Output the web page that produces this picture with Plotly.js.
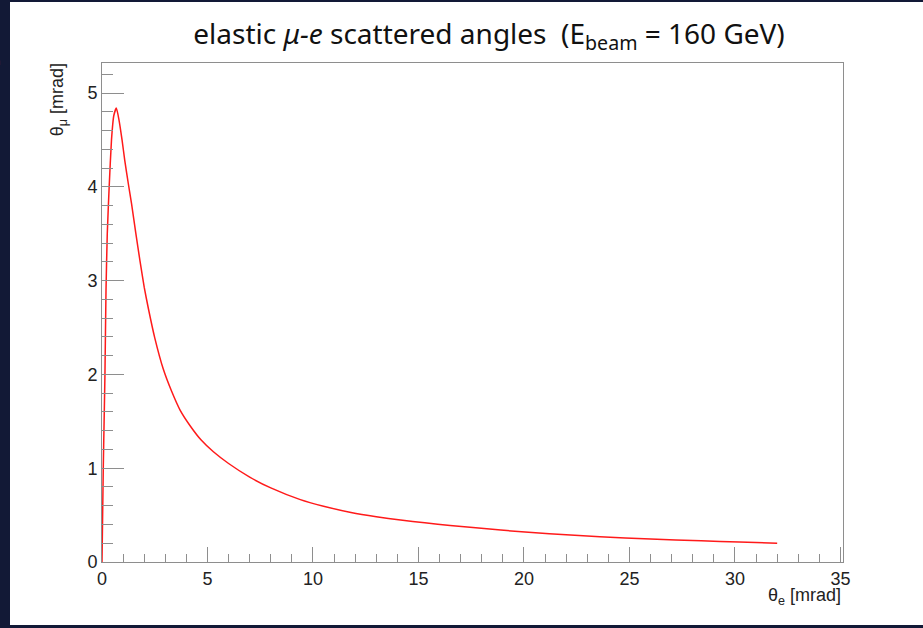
<!DOCTYPE html>
<html>
<head>
<meta charset="utf-8">
<script src="https://cdn.plot.ly/plotly-3.0.1.min.js"></script>
<style>
  html, body { margin: 0; padding: 0; width: 923px; height: 628px; overflow: hidden; background: #121936; }
  #chart { position: absolute; left: 10px; top: 2px; width: 913px; height: 623px; }
  #frag { position: absolute; left: -21px; top: 40px; color: #ffffff; font-family: "Noto Sans", sans-serif; font-size: 40px; line-height: 1; }
</style>
</head>
<body>
<div id="frag">e</div>
<div id="chart"></div>
<script>
// theta_e [mrad]
const thetaE = [0, 0.03, 0.06, 0.10, 0.14, 0.19, 0.25, 0.34, 0.45, 0.56, 0.68, 0.80, 0.95, 1.08, 1.25, 1.40, 1.60, 1.80, 2.00, 2.20, 2.50, 2.90, 3.30, 3.70, 4.20, 4.70, 5.28, 6.00, 7.00, 8.00, 9.40, 10.50, 11.80, 13.00, 14.15, 15.30, 16.50, 18.90, 21.20, 23.60, 26.00, 28.40, 30.20, 32.00];
// theta_mu [mrad]
const thetaMu = [0, 0.5, 1.0, 1.5, 2.0, 2.9, 3.5, 4.0, 4.5, 4.76, 4.84, 4.72, 4.50, 4.28, 4.03, 3.82, 3.51, 3.21, 2.93, 2.70, 2.39, 2.06, 1.82, 1.62, 1.445, 1.30, 1.175, 1.05, 0.905, 0.79, 0.665, 0.595, 0.528, 0.482, 0.447, 0.418, 0.39, 0.34, 0.302, 0.268, 0.245, 0.226, 0.212, 0.20];

const xTickVals = [0, 5, 10, 15, 20, 25, 30, 35];
const yTickVals = [0, 1, 2, 3, 4, 5];

const axisGray = '#8e8e8e';
const tickFont = {family: 'Liberation Sans, Arial, sans-serif', size: 18, color: '#222222'};

const trace = {
  x: thetaE, y: thetaMu, type: 'scatter', mode: 'lines',
  line: {color: '#ff1a1a', width: 1.5, shape: 'spline', smoothing: 0.5},
  hoverinfo: 'skip'
};

const layout = {
  width: 913, height: 623,
  paper_bgcolor: '#ffffff', plot_bgcolor: '#ffffff',
  margin: {l: 92, r: 80, t: 61, b: 63},
  showlegend: false,
  title: {
    text: 'elastic <i>μ-e</i> scattered angles  (E<sub>beam</sub> = 160 GeV)',
    font: {family: 'Noto Sans, sans-serif', size: 28, color: '#111111'},
    x: 0.5247, xanchor: 'center', xref: 'container',
    y: 0.948, yanchor: 'middle', yref: 'container'
  },
  xaxis: {
    range: [0, 35.12], showgrid: false, zeroline: false,
    showline: true, linecolor: axisGray, linewidth: 1, mirror: true,
    ticks: 'inside', ticklen: 15, tickwidth: 1, tickcolor: axisGray,
    tickmode: 'array', tickvals: xTickVals, ticktext: xTickVals.map(String),
    tickfont: tickFont,
    minor: {ticks: 'inside', ticklen: 8, tickwidth: 1, tickcolor: axisGray, dtick: 1, showgrid: false}
  },
  yaxis: {
    range: [0, 5.32], showgrid: false, zeroline: false,
    showline: true, linecolor: axisGray, linewidth: 1, mirror: true,
    ticks: 'inside', ticklen: 22, tickwidth: 1, tickcolor: axisGray,
    tickmode: 'array', tickvals: yTickVals, ticktext: yTickVals.map(String),
    tickfont: tickFont,
    minor: {ticks: 'inside', ticklen: 11, tickwidth: 1, tickcolor: axisGray, dtick: 0.2, showgrid: false}
  },
  annotations: [
    {
      text: 'θ<sub>μ</sub> [mrad]', textangle: -90,
      xref: 'paper', yref: 'paper', x: -0.059, y: 1.003,
      xanchor: 'center', yanchor: 'top', showarrow: false,
      font: {family: 'Liberation Sans, Arial, sans-serif', size: 18, color: '#222222'}
    },
    {
      text: 'θ<sub>e</sub> [mrad]',
      xref: 'paper', yref: 'paper', x: 1.0, y: -0.070,
      xanchor: 'right', yanchor: 'middle', showarrow: false,
      font: {family: 'Liberation Sans, Arial, sans-serif', size: 18, color: '#222222'}
    }
  ]
};

Plotly.newPlot('chart', [trace], layout, {displayModeBar: false, staticPlot: true});
</script>
</body>
</html>
